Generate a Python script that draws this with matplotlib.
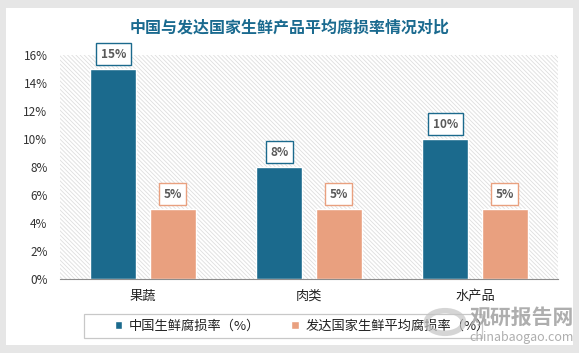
import numpy as np
import matplotlib; matplotlib.use('Agg')
import matplotlib.pyplot as plt
from matplotlib.patches import Rectangle, FancyBboxPatch, Circle

plt.rcParams['font.family'] = ['Noto Sans CJK SC', 'DejaVu Sans']
plt.rcParams['hatch.linewidth'] = 0.6

categories = ['果蔬', '肉类', '水产品']
china_rate = [15, 8, 10]
developed_rate = [5, 5, 5]
series_names = ['中国生鲜腐损率（%）', '发达国家生鲜平均腐损率（%）']
y_ticks = [0, 2, 4, 6, 8, 10, 12, 14, 16]

BLUE = '#1b6a8d'
ORANGE = '#e9a07f'
W, H = 579, 353

fig = plt.figure(figsize=(W / 100, H / 100), dpi=100)
fig.patch.set_facecolor('#e6e6e6')
# 흰색 카드 배경
fig.patches.append(FancyBboxPatch((6 / W, 8 / H), 567 / W, 337 / H,
                                  boxstyle='square,pad=0', transform=fig.transFigure,
                                  facecolor='white', edgecolor='none', zorder=-10))

ax = fig.add_axes([60 / W, (H - 279) / H, 498 / W, 224 / H])
ax.set_zorder(1)
ax.set_facecolor('none')
ax.add_patch(Rectangle((0, 0), 1, 1, transform=ax.transAxes, facecolor='white',
                       edgecolor='#dedede', hatch='\\' * 8, lw=0, zorder=0))

x = np.arange(len(categories))
bw = 0.277
off = 0.178
b1 = ax.bar(x - off, china_rate, bw, color=BLUE, edgecolor='white', lw=1.0, zorder=3,
            label=series_names[0])
b2 = ax.bar(x + off, developed_rate, bw, color=ORANGE, edgecolor='white', lw=1.0, zorder=3,
            label=series_names[1])

for bars, vals, col in [(b1, china_rate, BLUE), (b2, developed_rate, ORANGE)]:
    for b, v in zip(bars, vals):
        ax.text(b.get_x() + b.get_width() / 2, v + 1.07, f'{v}%', ha='center', va='center',
                fontsize=8.5, fontweight='bold', color='#595959', zorder=5,
                bbox=dict(boxstyle='square,pad=0.38', facecolor='white', edgecolor=col, lw=1.0))

ax.set_xlim(-0.5, len(categories) - 0.5)
ax.set_ylim(0, 16)
ax.set_yticks(y_ticks)
ax.set_yticklabels([f'{t}%' for t in y_ticks], fontsize=8.5, color='#333333')
ax.set_xticks(x)
ax.set_xticklabels(categories, fontsize=9.5, color='#222222')
ax.tick_params(length=0, pad=8)
ax.tick_params(axis='y', pad=9)
for s in ['top', 'right', 'left']:
    ax.spines[s].set_visible(False)
ax.spines['bottom'].set_color('#8c8c8c')
ax.spines['bottom'].set_zorder(4)

fig.text(0.5, (H - 27) / H, '中国与发达国家生鲜产品平均腐损率情况对比', ha='center', va='center',
         fontsize=11.5, fontweight='bold', color='#1a6a8f')

# 범례: 테두리는 직접 그림
fig.patches.append(Rectangle((84 / W, (H - 338) / H), 398 / W, 24 / H,
                             transform=fig.transFigure, facecolor='white',
                             edgecolor='#c8c8c8', lw=0.9, zorder=2))
leg = fig.legend(handles=[b1, b2], labels=series_names, loc='center left',
                 bbox_to_anchor=(104 / W, (H - 326) / H), ncol=2, fontsize=9.5,
                 frameon=False, handlelength=0.55, handleheight=0.55,
                 handletextpad=0.5, columnspacing=2.4, borderpad=0.3)
leg.set_zorder(3)
for t in leg.get_texts():
    t.set_color('#222222')

# 워터마크
fig.patches.append(Circle((445 / W, (H - 322) / H), 0.032, transform=fig.transFigure,
                          facecolor='none', edgecolor='#c4c4c4', lw=4, alpha=0.7, zorder=9))
fig.text(574 / W, (H - 317) / H, '观研报告网', ha='right', va='center', fontsize=15,
         fontweight='bold', color='#a0a0a0', alpha=0.85, zorder=10)
fig.text(574 / W, (H - 337) / H, 'chinabaogao.com', ha='right', va='center', fontsize=9,
         color='#a0a0a0', alpha=0.85, zorder=10)

plt.savefig('out.png', dpi=100, facecolor=fig.get_facecolor())
